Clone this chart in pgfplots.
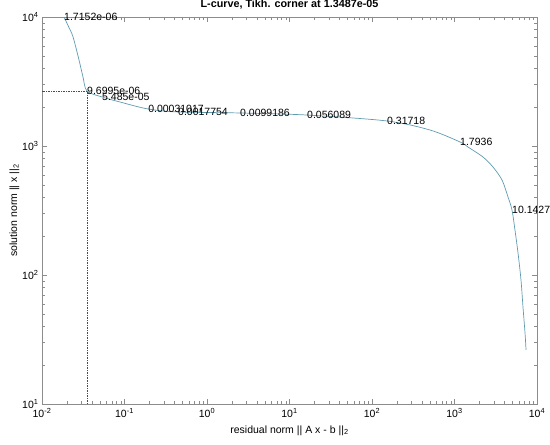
\documentclass[border=0pt]{standalone}
\usepackage{pgfplots}
\pgfplotsset{compat=1.18}
\usepackage{fontspec}
\setmainfont{Liberation Sans}

\definecolor{lcurve}{RGB}{95,155,175}
\definecolor{axgray}{RGB}{140,140,140}

\begin{document}
\begin{tikzpicture}[font=\fontsize{10.5}{12}\selectfont]
\begin{axis}[
    scale only axis,
    width=495pt, height=387pt,
    xmode=log, ymode=log,
    xmin=0.01, xmax=10000,
    ymin=10, ymax=10000,
    xtick={0.01,0.1,1,10,100,1000,10000},
    xticklabels={10\textsuperscript{-2},10\textsuperscript{-1},10\textsuperscript{0},10\textsuperscript{1},10\textsuperscript{2},10\textsuperscript{3},10\textsuperscript{4}},
    ytick={10,100,1000,10000},
    yticklabels={10\textsuperscript{1},10\textsuperscript{2},10\textsuperscript{3},10\textsuperscript{4}},
    xticklabel style={yshift=-1pt},
    axis line style={axgray},
    tick style={axgray},
    major tick length=5pt, minor tick length=3pt,
    title={\textbf{L-curve, Tikh. corner at 1.3487e-05}},
    title style={at={(0.5,1)}, anchor=south, yshift=-2pt, font=\fontsize{10.8}{12}\selectfont},
    xlabel={residual norm || A x - b ||\textsubscript{2}},
    ylabel={solution norm || x ||\textsubscript{2}},
    xlabel style={yshift=-1pt},
    ylabel style={yshift=-4pt},
    clip=false,
    cycle list={{red, mark=none}},
]
% corner marker (red dotted)
\addplot+[line width=0.8pt, dash pattern=on 1.5pt off 1pt] coordinates {
(0.0351,10) (0.0351,2669) (0.01,2669)
};
% L-curve (residual norm, solution norm)
\addplot[lcurve, line width=0.7pt, smooth] table {
x y
0.0185 10000
0.0212 8300
0.0238 6998
0.0281 4642
0.0314 3428
0.0351 2669
0.0534 2399
0.0882 2193
0.193 1936
0.445 1837
2.51 1803
16.3 1738
152 1563
505 1330
1167 1074
1459 981
2213 822
2929 687
3767 545
4450 403
4977 319
5408 223
5888 148
6397 91.4
6761 56.5
7159 35.5
7362 26.3
};
% regularization parameter labels
\addplot[only marks, mark=none, nodes near coords, point meta=explicit symbolic,
    every node near coord/.append style={black, anchor=west, inner sep=0pt, font=\fontsize{10.5}{12}\selectfont}]
table[meta=label] {
x y label
0.0185 10000 1.7152e-06
0.0351 2669 9.6995e-06
0.0534 2399 5.485e-05
0.193 1936 0.00031017
0.445 1837 0.0017754
2.51 1803 0.0099186
16.3 1738 0.056089
152 1563 0.31718
1167 1074 1.7936
4977 319 10.1427
};
\end{axis}
\pgfresetboundingbox
\path (current axis.south west) ++(-42pt,-40pt) coordinate (bl);
\path (current axis.north east) ++(13pt,17pt) coordinate (tr);
\path (bl) rectangle (tr);
\end{tikzpicture}
\end{document}
